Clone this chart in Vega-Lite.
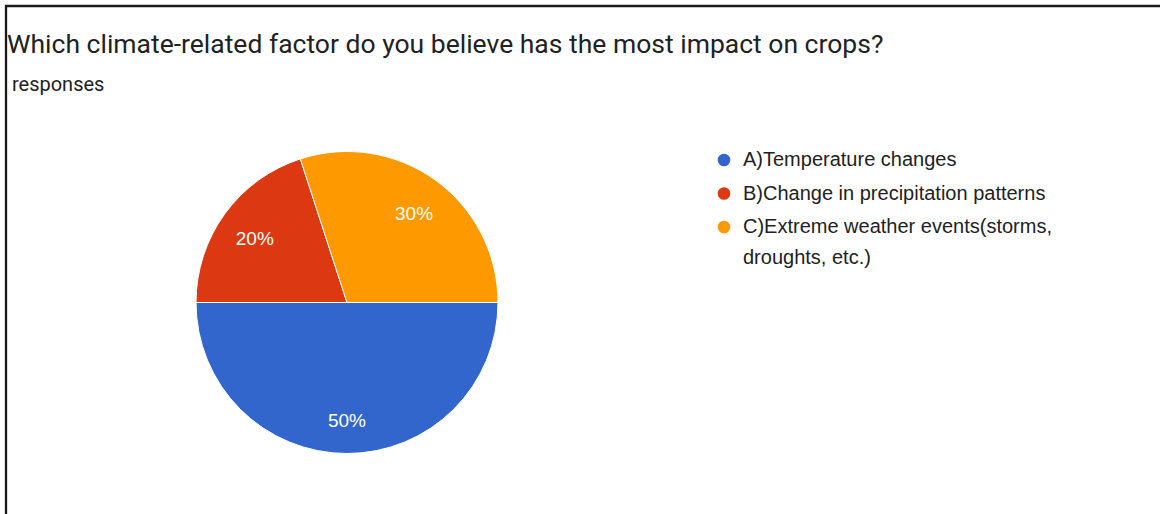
{
  "$schema": "https://vega.github.io/schema/vega-lite/v6.json",
  "width": 1200,
  "height": 560,
  "autosize": {"type": "none"},
  "padding": {"left": 6, "top": 6, "right": -46, "bottom": -52},
  "background": "white",
  "view": {"stroke": "#1a1a1a", "strokeWidth": 2.3, "fill": "white"},
  "title": {
    "text": "Which climate-related factor do you believe has the most impact on crops?",
    "subtitle": "\u200b\u00a0responses",
    "anchor": "start",
    "frame": "group",
    "offset": -89,
    "dx": 1,
    "font": "Roboto",
    "fontSize": 26.5,
    "fontWeight": "normal",
    "color": "#222222",
    "subtitleFont": "Roboto",
    "subtitleFontSize": 20,
    "subtitleColor": "#222222",
    "subtitlePadding": 17
  },
  "data": {
    "values": [
      {"factor": "A)Temperature changes", "pct": 50, "label": "50%"},
      {"factor": "B)Change in precipitation patterns", "pct": 20, "label": "20%"},
      {"factor": "C)Extreme weather events(storms, droughts, etc.)", "pct": 30, "label": "30%"}
    ]
  },
  "encoding": {
    "theta": {"field": "pct", "type": "quantitative", "stack": true, "scale": {"range": [1.5707963, 7.8539816]}},
    "order": {"field": "factor", "type": "nominal"}
  },
  "layer": [
    {
      "mark": {"type": "arc", "outerRadius": 151, "x": 341, "y": 296.5, "stroke": "white", "strokeWidth": 1},
      "encoding": {
        "color": {
          "field": "factor",
          "type": "nominal",
          "scale": {"range": ["#3366CC", "#DC3912", "#FF9900"]},
          "legend": {
            "orient": "none",
            "legendX": 708,
            "legendY": 144,
            "title": null,
            "symbolType": "circle",
            "symbolSize": 160,
            "symbolStrokeWidth": 0,
            "labelFont": "Liberation Sans",
            "labelFontSize": 20,
            "labelColor": "#222222",
            "labelOffset": 9,
            "rowPadding": 13.5,
            "labelLimit": 500,
            "labelExpr": "indexof(datum.label, '(storms') > 0 ? ['C)Extreme weather events(storms,', 'droughts, etc.)'] : datum.label"
          }
        }
      }
    },
    {
      "mark": {"type": "text", "radius": 114, "x": 341, "y": 296.5, "dy": 4, "font": "Liberation Sans", "fontSize": 19, "fill": "white", "align": "center", "baseline": "middle"},
      "encoding": {
        "text": {"field": "label", "type": "nominal"}
      }
    }
  ],
  "config": {
    "view": {"stroke": "#1a1a1a", "strokeWidth": 2.3},
    "style": {"guide-label": {"lineHeight": 31}}
  }
}
